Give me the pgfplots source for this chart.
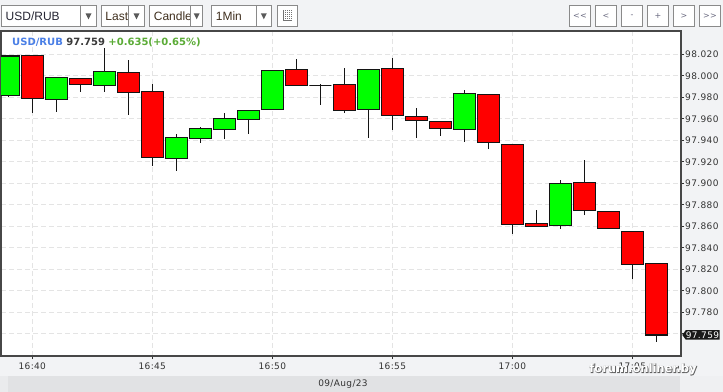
\documentclass[border=0pt]{standalone}
\usepackage{pgfplots}
\pgfplotsset{compat=1.18}
\usepackage{fontspec}
\setmainfont{DejaVu Sans}
\newfontfamily\tickfont[LetterSpace=4]{DejaVu Sans}
\newfontfamily\arial{Liberation Sans}
\newfontfamily\wmshadow[FakeBold=7]{DejaVu Sans Bold}
\definecolor{bgc}{HTML}{F2F3F5}
\definecolor{barc}{HTML}{E1E2E4}
\definecolor{barl}{HTML}{EAEBED}
\definecolor{barr}{HTML}{EFF0F2}
\definecolor{tbdraw}{HTML}{8A8A8A}
\definecolor{tri}{HTML}{5A5A5A}
\definecolor{tbtxt}{HTML}{262633}
\definecolor{tbtxtb}{HTML}{40301F}
\definecolor{btn}{HTML}{6A6A80}
\definecolor{hblue}{HTML}{4A7FE6}
\definecolor{hgray}{HTML}{3A3A3A}
\definecolor{hgreen}{HTML}{5AAB35}
\definecolor{cgreen}{HTML}{00FF00}
\definecolor{cred}{HTML}{FF0000}
\definecolor{gridc}{HTML}{E4E4E4}
% prices are plotted relative to a base of 97.7 (the axis labels show the full price)
\newcommand{\candle}[6]{% position, fill, low, body low, body high, high
  \pgfmathsetmacro\xa{#1-0.46}\pgfmathsetmacro\xb{#1+0.46}%
  \pgfmathsetmacro\ya{#3-97.7}\pgfmathsetmacro\yb{#4-97.7}%
  \pgfmathsetmacro\yc{#5-97.7}\pgfmathsetmacro\yd{#6-97.7}%
  \addplot[black!92, line width=1.2bp] coordinates {(#1,\ya) (#1,\yd)};
  \addplot[fill=#2, draw=black!92, line width=1.2bp] coordinates {(\xa,\yb) (\xb,\yb) (\xb,\yc) (\xa,\yc)} -- cycle;
}
\begin{document}
\begin{tikzpicture}
\path[use as bounding box] (0,0) rectangle (723bp,392bp);
\fill[bgc] (0,0) rectangle (723bp,392bp);
\begin{scope}[x=1bp,y=1bp]
  \fill[barl] (0,0) rectangle (8,16);
  \fill[barc] (8,0) rectangle (680,16);
  \fill[barr] (680,0) rectangle (723,16);
  \tikzset{tb/.style={fill=white, draw=tbdraw, line width=1bp}}
  % dropdowns
  \draw[tb] (1.5,365.5) rectangle (96.5,386.5);
  \draw[tbdraw, line width=1bp] (80.7,365.5)--(80.7,386.5);
  \fill[tri] (85.5,378.7)--(91.5,378.7)--(88.5,372.7)--cycle;
  \node[anchor=base west, inner sep=0, font=\arial\fontsize{12bp}{14bp}\selectfont, text=tbtxt] at (5.5,372) {USD/RUB};
  \draw[tb] (101.5,365.5) rectangle (144.5,386.5);
  \draw[tbdraw, line width=1bp] (128.3,365.5)--(128.3,386.5);
  \fill[tri] (133.5,378.7)--(139.5,378.7)--(136.5,372.7)--cycle;
  \node[anchor=base west, inner sep=0, font=\arial\fontsize{12bp}{14bp}\selectfont, text=tbtxtb] at (105.3,372) {Last};
  \begin{scope}
    \clip (149.5,365.5) rectangle (190.7,386.5);
    \draw[tb] (149.5,365.5) rectangle (202.5,386.5);
    \node[anchor=base west, inner sep=0, font=\arial\fontsize{12bp}{14bp}\selectfont, text=tbtxtb] at (153.7,372) {Candle};
  \end{scope}
  \draw[tbdraw, line width=1bp] (149.5,365.5) rectangle (202.5,386.5);
  \draw[tbdraw, line width=1bp] (190.7,365.5)--(190.7,386.5);
  \fill[white] (191.2,366) rectangle (202,386);
  \fill[tri] (193.7,378.7)--(199.7,378.7)--(196.7,372.7)--cycle;
  \draw[tb] (211.5,365.5) rectangle (271.5,386.5);
  \draw[tbdraw, line width=1bp] (256,365.5)--(256,386.5);
  \fill[tri] (260.8,378.7)--(266.8,378.7)--(263.8,372.7)--cycle;
  \node[anchor=base west, inner sep=0, font=\arial\fontsize{12bp}{14bp}\selectfont, text=tbtxtb] at (215.7,372) {1Min};
  % icon
  \draw[tb] (277.2,365.5) rectangle (297,386.5);
  \draw[black!55, line width=0.8bp] (283.2,382)--(283.2,371.6)--(292,371.6);
  \foreach \yy in {373.6,375.6,377.6,379.6,381.6}
    \draw[black!55, line width=0.8bp, dash pattern=on 1bp off 1bp] (285,\yy)--(292,\yy);
  % navigation buttons
  \foreach \a/\t in {569.5/{<<},595.5/{<},621.5/{-},647.5/{+},673.5/{>},699.5/{>>}} {
    \draw[tb] (\a,365.5) rectangle ++(21,21);
    \node[inner sep=0, font=\tickfont\fontsize{8bp}{9bp}\selectfont, text=btn] at (\a+10.5,375.7) {\t};
  }
\end{scope}
\begin{axis}[
  at={(1bp,36bp)}, anchor=south west, scale only axis,
  width=680bp, height=325bp,
  xmin=-1.304, xmax=27.029, ymin=0.0394, ymax=0.3417,
  clip mode=individual,
  axis background/.style={fill=white},
  axis line style={draw=black!72, line width=1.2bp},
  xtick={0,5,10,15,20,25},
  xticklabels={16:40,16:45,16:50,16:55,17:00,17:05},
  ytick={0.06,0.08,0.10,0.12,0.14,0.16,0.18,0.20,0.22,0.24,0.26,0.28,0.30,0.32},
  yticklabels={97.760,97.780,97.800,97.820,97.840,97.860,97.880,97.900,97.920,97.940,97.960,97.980,98.000,98.020},
  xtick pos=left, ytick pos=right, yticklabel pos=right,
  tick align=outside, major tick length=3bp,
  tick style={draw=black!80, line width=1bp},
  grid=major,
  major grid style={draw=gridc, dash pattern=on 5bp off 3bp, line width=1bp},
  yticklabel style={font=\tickfont\fontsize{9bp}{10bp}\selectfont, text=black!80,
    anchor=west, inner sep=0pt, xshift=1bp},
  xticklabel style={font=\tickfont\fontsize{9bp}{10bp}\selectfont, text=black!80},
]
% position, colour, low, body low, body high, high
\candle{-1}{cgreen}{97.9800}{97.9819}{98.0184}{98.0184}
\candle{0}{cred}{97.9657}{97.9791}{98.0191}{98.0191}
\candle{1}{cgreen}{97.9666}{97.9778}{97.9986}{97.9986}
\candle{2}{cred}{97.9852}{97.9921}{97.9977}{97.9977}
\candle{3}{cgreen}{97.9852}{97.9912}{98.0042}{98.0259}
\candle{4}{cred}{97.9638}{97.9847}{98.0033}{98.0144}
\candle{5}{cred}{97.9164}{97.9242}{97.9856}{97.9924}
\candle{6}{cgreen}{97.9117}{97.9233}{97.9428}{97.9459}
\candle{7}{cgreen}{97.9378}{97.9415}{97.9512}{97.9527}
\candle{8}{cgreen}{97.9412}{97.9503}{97.9605}{97.9657}
\candle{9}{cgreen}{97.9462}{97.9596}{97.9679}{97.9679}
\candle{10}{cgreen}{97.9689}{97.9689}{98.0051}{98.0051}
\candle{11}{cred}{97.9912}{97.9912}{98.0061}{98.0156}
\candle{12}{black}{97.9731}{97.9908}{97.9908}{97.9924}
\candle{13}{cred}{97.9657}{97.9679}{97.9921}{98.0073}
\candle{14}{cgreen}{97.9424}{97.9689}{98.0061}{98.0061}
\candle{15}{cred}{97.9499}{97.9633}{98.0070}{98.0166}
\candle{16}{cred}{97.9424}{97.9586}{97.9623}{97.9700}
\candle{17}{cred}{97.9443}{97.9512}{97.9577}{97.9577}
\candle{18}{cgreen}{97.9387}{97.9503}{97.9837}{97.9868}
\candle{19}{cred}{97.9319}{97.9382}{97.9828}{97.9828}
\candle{20}{cred}{97.8532}{97.8619}{97.9363}{97.9363}
\candle{21}{cred}{97.8600}{97.8600}{97.8628}{97.8752}
\candle{22}{cgreen}{97.8578}{97.8610}{97.9000}{97.9031}
\candle{23}{cred}{97.8705}{97.8749}{97.9010}{97.9217}
\candle{24}{cred}{97.8582}{97.8582}{97.8740}{97.8740}
\candle{25}{cred}{97.8110}{97.8247}{97.8554}{97.8554}
\candle{26}{cred}{97.7527}{97.7590}{97.8256}{97.8256}
% last price position (97.759)
\coordinate (pb) at (axis cs:27.029,0.059);
\end{axis}
% last price marker
\fill[black!90] ([xshift=1.3bp]pb) -- ([xshift=4.8bp,yshift=4.8bp]pb) -- ([xshift=38.6bp,yshift=4.8bp]pb)
  -- ([xshift=38.6bp,yshift=-4.8bp]pb) -- ([xshift=4.8bp,yshift=-4.8bp]pb) -- cycle;
\node[anchor=west, inner sep=0pt, text=white, font=\tickfont\fontsize{9bp}{10bp}\selectfont] at ([xshift=4.6bp]pb) {97.759};
\begin{scope}[x=1bp,y=1bp]
  \node[anchor=base west, inner sep=0, font=\bfseries\fontsize{10bp}{12bp}\selectfont] at (12,346.7)
    {\textcolor{hblue}{USD/RUB} \textcolor{hgray}{97.759} \textcolor{hgreen}{+0.635(+0.65\%)}};
  \node[inner sep=0, font=\tickfont\fontsize{9bp}{10bp}\selectfont, text=black!80] at (343,8) {09/Aug/23};
  \node[inner sep=0, font=\wmshadow\fontsize{11.5bp}{13bp}\selectfont, text=black!80, opacity=0.6] at (643.4,22.5) {forum.onliner.by};
  \node[inner sep=0, font=\bfseries\fontsize{11.5bp}{13bp}\selectfont, text=white] at (643,23) {forum.onliner.by};
\end{scope}
\end{tikzpicture}
\end{document}
